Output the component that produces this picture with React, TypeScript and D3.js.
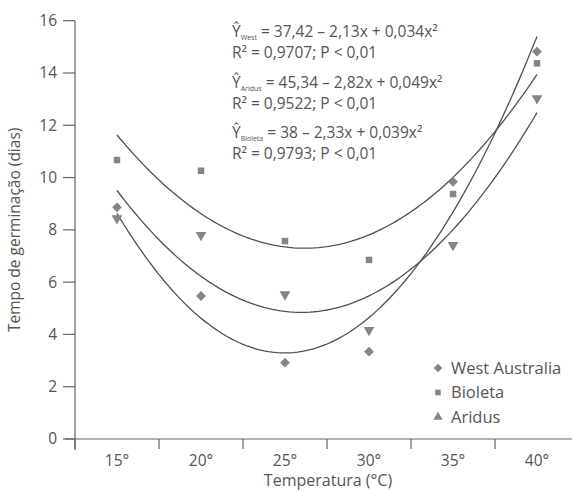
import React from "react";
import * as d3 from "d3";

const temps = [15, 20, 25, 30, 35, 40];
const westAustralia = [8.86, 5.47, 2.92, 3.34, 9.84, 14.82];
const bioleta = [10.67, 10.26, 7.57, 6.85, 9.37, 14.37];
const aridus = [8.44, 7.8, 5.53, 4.17, 7.42, 13.03];
// trend-curve heights at each temperature
const westTrend = [8.63, 4.62, 3.29, 4.65, 8.68, 15.4];
const bioletaTrend = [11.62, 8.63, 7.35, 7.8, 10.0, 13.95];
const aridusTrend = [9.5, 6.22, 4.9, 5.48, 7.97, 12.5];
const yTicks = [0, 2, 4, 6, 8, 10, 12, 14, 16];
const xTickLabels = ["15°", "20°", "25°", "30°", "35°", "40°"];
const xDividers = [12.5, 17.5, 22.5, 27.5, 32.5, 37.5];
const equations = [
  { sub: "West", eq: " = 37,42 – 2,13x + 0,034x²", r2: "R² = 0,9707; P < 0,01" },
  { sub: "Aridus", eq: " = 45,34 – 2,82x + 0,049x²", r2: "R² = 0,9522; P < 0,01" },
  { sub: "Bioleta", eq: " = 38 – 2,33x + 0,039x²", r2: "R² = 0,9793; P < 0,01" },
];
const legendNames = ["West Australia", "Bioleta", "Aridus"];

const W = 572;
const H = 492;
const TXT = "#555";
const LINE = "#505050";
const MARK = "#858585";
const FONT = "'Open Sans', 'DejaVu Sans', sans-serif";

function quadFit(xs: number[], ys: number[]) {
  const n = xs.length;
  const mx = d3.mean(xs) as number;
  const t = xs.map((v) => v - mx);
  const s = (p: number) => d3.sum(t, (v) => Math.pow(v, p));
  const sy = (p: number) => d3.sum(t, (v, i) => Math.pow(v, p) * ys[i]);
  const A = [
    [n, s(1), s(2), sy(0)],
    [s(1), s(2), s(3), sy(1)],
    [s(2), s(3), s(4), sy(2)],
  ];
  for (let i = 0; i < 3; i++) {
    for (let k = i + 1; k < 3; k++) {
      const f = A[k][i] / A[i][i];
      for (let j = i; j < 4; j++) A[k][j] -= f * A[i][j];
    }
  }
  const c = [0, 0, 0];
  for (let i = 2; i >= 0; i--) {
    let v = A[i][3];
    for (let j = i + 1; j < 3; j++) v -= A[i][j] * c[j];
    c[i] = v / A[i][i];
  }
  return (x: number) => c[0] + c[1] * (x - mx) + c[2] * (x - mx) * (x - mx);
}

export default function App() {
  const x = d3.scaleLinear().domain([12.5, 42.5]).range([75, 579]);
  const y = d3.scaleLinear().domain([0, 16]).range([439, 20.7]);

  const series = [
    { name: "West Australia", values: westAustralia, trend: westTrend, shape: "diamond" },
    { name: "Bioleta", values: bioleta, trend: bioletaTrend, shape: "square" },
    { name: "Aridus", values: aridus, trend: aridusTrend, shape: "triangle" },
  ];

  const sampleX = d3.range(15, 40.001, 0.25);
  const line = d3
    .line<[number, number]>()
    .x((d) => x(d[0]))
    .y((d) => y(d[1]));

  const sq = d3.symbol().type(d3.symbolSquare);
  const tri = d3.symbol().type(d3.symbolTriangle);

  const marker = (shape: string, cx: number, cy: number, key: string, inPlot: boolean) => {
    const k = inPlot ? 1 : 0.75;
    if (shape === "diamond")
      return (
        <path key={key} d={sq.size(48 * k)() as string} transform={`translate(${cx},${cy}) rotate(45)`} fill={MARK} />
      );
    if (shape === "square")
      return <path key={key} d={sq.size(42 * k)() as string} transform={`translate(${cx},${cy})`} fill={MARK} />;
    return (
      <path
        key={key}
        d={tri.size(50 * k)() as string}
        transform={`translate(${cx},${cy}) rotate(${inPlot ? 180 : 0})`}
        fill={MARK}
      />
    );
  };

  return (
    <div style={{ position: "fixed", left: 0, top: 0 }}>
      <svg width={W} height={H} style={{ display: "block", background: "#fff" }}>
        {/* axes */}
        <line x1={75} x2={75} y1={y(16)} y2={450} stroke="#666" strokeWidth={1.2} />
        <line x1={65} x2={W} y1={y(0)} y2={y(0)} stroke="#666" strokeWidth={1.2} />
        {yTicks.map((t) => (
          <g key={"yt" + t}>
            <line x1={63} x2={75} y1={y(t)} y2={y(t)} stroke="#666" strokeWidth={1.2} />
            <text x={57} y={y(t)} dy="0.35em" textAnchor="end" fontSize={15.5} fill={TXT} fontFamily={FONT}>
              {t}
            </text>
          </g>
        ))}
        {xDividers.map((t) => (
          <line key={"xd" + t} x1={x(t)} x2={x(t)} y1={y(0)} y2={y(0) + 10} stroke="#666" strokeWidth={1.2} />
        ))}
        {temps.map((t, i) => (
          <text key={"xl" + t} x={x(t)} y={466} textAnchor="middle" fontSize={15.5} fill={TXT} fontFamily={FONT}>
            {xTickLabels[i]}
          </text>
        ))}
        <text x={328} y={486} textAnchor="middle" fontSize={16} fill={TXT} fontFamily={FONT}>
          Temperatura (°C)
        </text>
        <text
          transform={`translate(20,${y(8)}) rotate(-90)`}
          textAnchor="middle"
          fontSize={15.5}
          fill={TXT}
          fontFamily={FONT}
        >
          Tempo de germinação (dias)
        </text>

        {/* trend curves */}
        {series.map((s) => {
          const f = quadFit(temps, s.trend);
          const pts = sampleX.map((v) => [v, f(v)] as [number, number]);
          return <path key={"c" + s.name} d={line(pts) as string} fill="none" stroke={LINE} strokeWidth={1.3} />;
        })}

        {/* points */}
        {series.map((s) => s.values.map((v, i) => marker(s.shape, x(temps[i]), y(v), s.name + i, true)))}

        {/* equations */}
        {equations.map((e, i) => {
          const base = [37, 88, 138][i];
          return (
            <g key={"eq" + i} fontFamily={FONT} fill={TXT}>
              <text x={232} y={base} fontSize={15.5}>
                Ŷ
                <tspan fontSize={7} dy={3}>
                  {e.sub}
                </tspan>
                <tspan fontSize={15.5} dy={-3}>
                  {e.eq}
                </tspan>
              </text>
              <text x={232} y={base + 21} fontSize={15.5}>
                {e.r2}
              </text>
            </g>
          );
        })}

        {/* legend */}
        {legendNames.map((n, i) => {
          const ly = 368 + i * 24.5;
          return (
            <g key={"lg" + n}>
              {marker(series[i].shape, 438, ly, "lm" + i, false)}
              <text x={451} y={ly} dy="0.35em" fontSize={16.5} fill={TXT} fontFamily={FONT}>
                {n}
              </text>
            </g>
          );
        })}
      </svg>
    </div>
  );
}
